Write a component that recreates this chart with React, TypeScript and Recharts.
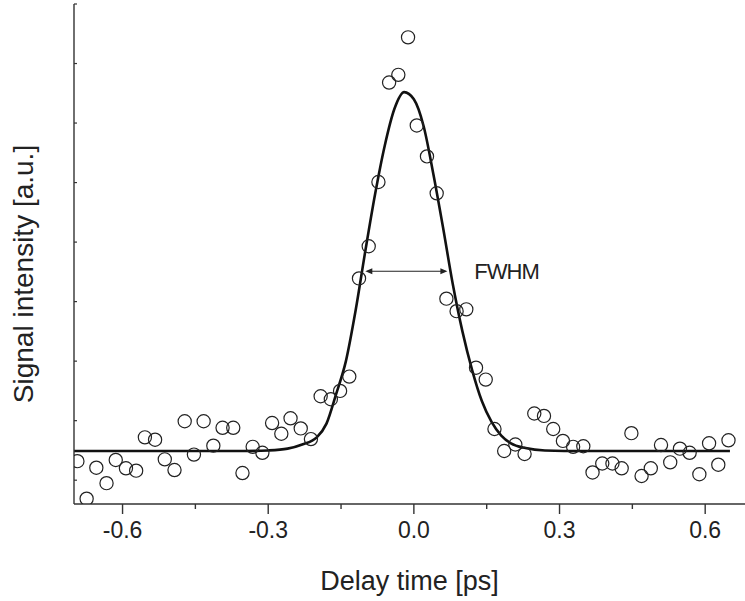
import React from 'react'
import {
  ComposedChart,
  Line,
  Scatter,
  XAxis,
  YAxis,
  ReferenceLine
} from 'recharts'

// measured points (open circles)
const delayTimes = [
  -0.693, -0.674, -0.654, -0.633, -0.614, -0.593, -0.572, -0.554, -0.533, -0.513,
  -0.493, -0.472, -0.453, -0.433, -0.413, -0.394, -0.372, -0.353, -0.332, -0.312,
  -0.292, -0.273, -0.254, -0.233, -0.212, -0.192, -0.171, -0.152, -0.133, -0.113,
  -0.093, -0.073, -0.051, -0.032, -0.012, 0.006, 0.027, 0.047, 0.067, 0.088,
  0.108, 0.128, 0.148, 0.166, 0.186, 0.209, 0.228, 0.248, 0.268, 0.287,
  0.307, 0.328, 0.349, 0.368, 0.388, 0.409, 0.428, 0.448, 0.469, 0.488,
  0.509, 0.528, 0.548, 0.568, 0.588, 0.608, 0.627, 0.648
]
const intensities = [
  0.32, -0.31, 0.21, -0.05, 0.34, 0.2, 0.16, 0.72, 0.68, 0.35,
  0.17, 0.99, 0.43, 0.99, 0.58, 0.88, 0.88, 0.12, 0.56, 0.46,
  0.96, 0.78, 1.04, 0.87, 0.69, 1.41, 1.36, 1.5, 1.74, 3.39,
  3.93, 5.01, 6.68, 6.81, 7.44, 5.96, 5.44, 4.82, 3.05, 2.84,
  2.87, 1.89, 1.69, 0.86, 0.49, 0.6, 0.44, 1.12, 1.08, 0.86,
  0.66, 0.56, 0.57, 0.13, 0.28, 0.28, 0.2, 0.79, 0.07, 0.2,
  0.59, 0.3, 0.53, 0.46, 0.1, 0.62, 0.26, 0.67
]

// fitted curve
const fitTimes = [
  -0.7, -0.35, -0.3, -0.26, -0.23, -0.2, -0.18, -0.16, -0.14, -0.12,
  -0.1, -0.08, -0.06, -0.04, -0.02, 0, 0.02, 0.04, 0.06, 0.08,
  0.1, 0.12, 0.14, 0.16, 0.18, 0.2, 0.23, 0.27, 0.35, 0.651
]
const fitValues = [
  0.49, 0.49, 0.5, 0.53, 0.6, 0.72, 0.95, 1.45, 2.0, 2.85,
  3.85, 4.8, 5.62, 6.24, 6.52, 6.4, 5.95, 5.15, 4.25, 3.3,
  2.5, 1.85, 1.33, 0.98, 0.75, 0.62, 0.54, 0.5, 0.49, 0.49
]

// FWHM arrow ends and level
const fwhmStart = -0.1
const fwhmEnd = 0.069
const fwhmLevel = 3.51

const xTicks = [-0.6, -0.45, -0.3, -0.15, 0, 0.15, 0.3, 0.45, 0.6]
const xTickLabels = ['-0.6', '', '-0.3', '', '0.0', '', '0.3', '', '0.6']
const yTicks = [0, 1, 2, 3, 4, 5, 6, 7, 8]

const points = delayTimes.map((t, i) => ({ t, v: intensities[i] }))
const fit = fitTimes.map((t, i) => ({ t, v: fitValues[i] }))

const font = '"Liberation Sans", Arial, Helvetica, sans-serif'
const axisColor = '#333'

const BottomTick = (props: any) => {
  const { x, y, payload } = props
  const idx = xTicks.findIndex((v) => Math.abs(v - payload.value) < 1e-6)
  const label = idx >= 0 ? xTickLabels[idx] : ''
  const len = label ? 10 : 5
  return (
    <g>
      <line x1={x} x2={x} y1={y} y2={y + len} stroke={axisColor} strokeWidth={1.4} />
      {label && (
        <text x={x} y={y + 34} textAnchor="middle" fontSize={23} fontFamily={font} fill="#222">
          {label}
        </text>
      )}
    </g>
  )
}

const TopTick = (props: any) => {
  const { x, y } = props
  return <line x1={x} x2={x} y1={y} y2={y + 3} stroke="#444" strokeWidth={2} />
}

const LeftTick = (props: any) => {
  const { x, y } = props
  return <line x1={x} x2={x + 3} y1={y} y2={y} stroke={axisColor} strokeWidth={1.2} />
}

const Circle = (props: any) => (
  <circle cx={props.cx} cy={props.cy} r={6.6} fill="none" stroke="#222" strokeWidth={1.2} />
)

const FwhmArrow = (props: any) => {
  const { x1, y1, x2, y2 } = props
  const h = 7
  const w = 3
  return (
    <g>
      <line x1={x1 + 2} y1={y1} x2={x2 - 2} y2={y2} stroke="#222" strokeWidth={1.2} />
      <polygon points={`${x1},${y1} ${x1 + h},${y1 - w} ${x1 + h},${y1 + w}`} fill="#222" />
      <polygon points={`${x2},${y2} ${x2 - h},${y2 - w} ${x2 - h},${y2 + w}`} fill="#222" />
      <text
        x={x2 + 27}
        y={y2 + 8}
        fontSize={22}
        letterSpacing={-1}
        fontFamily={font}
        fill="#222"
      >
        FWHM
      </text>
    </g>
  )
}

const YLabel = () => (
  <text
    transform="translate(33, 274) rotate(-90)"
    textAnchor="middle"
    fontSize={28}
    fontFamily={font}
    fill="#222"
  >
    Signal intensity [a.u.]
  </text>
)

export default function App() {
  return (
    <div style={{ position: 'absolute', left: 0, top: 0, background: '#fff' }}>
      <ComposedChart
        width={745}
        height={601}
        margin={{ top: 4, right: 0, bottom: 0, left: 0 }}
      >
        <XAxis
          xAxisId="bottom"
          dataKey="t"
          type="number"
          domain={[-0.7, 0.682]}
          ticks={xTicks}
          allowDataOverflow
          height={97}
          stroke={axisColor}
          strokeWidth={1.4}
          tickLine={false}
          tickSize={0}
          tickMargin={0}
          tick={<BottomTick />}
          interval={0}
          label={{
            value: 'Delay time [ps]',
            position: 'insideBottom',
            offset: 11,
            fontSize: 27,
            fontFamily: font,
            fill: '#222'
          }}
        />
        <XAxis
          xAxisId="top"
          orientation="top"
          dataKey="t"
          type="number"
          domain={[-0.7, 0.682]}
          ticks={xTicks}
          allowDataOverflow
          height={0}
          stroke="#666"
          strokeWidth={1.4}
          tickLine={false}
          tickSize={0}
          tickMargin={0}
          tick={<TopTick />}
          interval={0}
        />
        <YAxis
          dataKey="v"
          type="number"
          domain={[-0.4, 8]}
          ticks={yTicks}
          allowDataOverflow
          width={74}
          stroke={axisColor}
          strokeWidth={1.4}
          tickLine={false}
          tickSize={0}
          tickMargin={0}
          tick={<LeftTick />}
          interval={0}
          label={{ content: <YLabel /> }}
        />
        <Line
          xAxisId="bottom"
          data={fit}
          dataKey="v"
          type="monotone"
          stroke="#111"
          strokeWidth={2.6}
          dot={false}
          activeDot={false}
          isAnimationActive={false}
        />
        <Scatter
          xAxisId="bottom"
          data={points}
          dataKey="v"
          shape={<Circle />}
          isAnimationActive={false}
        />
        <ReferenceLine
          xAxisId="bottom"
          segment={[
            { x: fwhmStart, y: fwhmLevel },
            { x: fwhmEnd, y: fwhmLevel }
          ]}
          shape={<FwhmArrow />}
        />
      </ComposedChart>
    </div>
  )
}
